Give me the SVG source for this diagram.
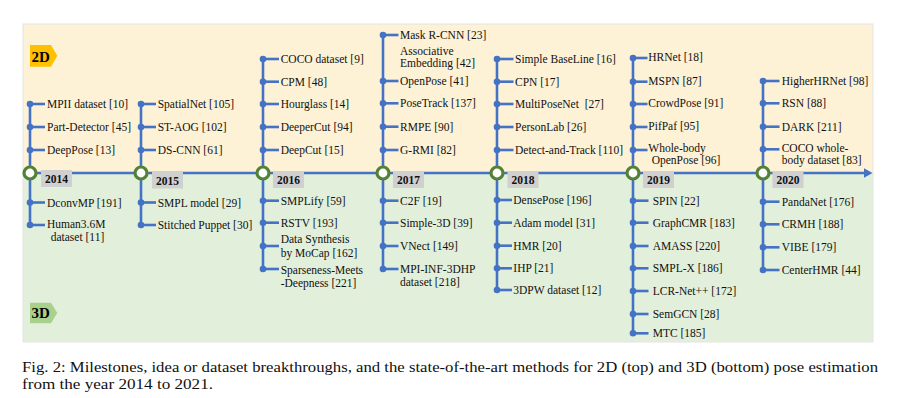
<svg xmlns="http://www.w3.org/2000/svg" width="899" height="398" viewBox="0 0 899 398">
<defs>
<style>
.t{font-family:"Liberation Serif","Times New Roman",serif;font-size:11.5px;fill:#111}
.yr{font-family:"Liberation Serif","Times New Roman",serif;font-size:11.5px;font-weight:bold;fill:#111;text-anchor:middle}
.tag{font-family:"Liberation Serif","Times New Roman",serif;font-size:15px;font-weight:bold;fill:#000}
.cap{font-family:"Liberation Serif","Times New Roman",serif;font-size:15px;fill:#111}
.ln{stroke:#4472C4;stroke-width:2.6;fill:none}
.dot{fill:#4472C4}
.yc{fill:#fff;stroke:#538135;stroke-width:3.2}
.yb{fill:#D0D0D0}
</style>
</defs>
<rect width="899" height="398" fill="#fff"/>
<rect x="23" y="24" width="850" height="149" fill="#FDF1D6"/>
<rect x="23" y="173" width="850" height="169" fill="#E2EFDA"/>
<rect x="23" y="24" width="850" height="318" fill="none" stroke="#E4E4E4" stroke-width="1"/>
<g id="tag2d"><path d="M30,45H51L57.3,55.8L51,66.7H30Z" fill="#FFC000"/><text class="tag" x="31.5" y="61.5">2D</text></g>
<g id="tag3d"><path d="M30,302.7H51L57.3,313L51,323.3H30Z" fill="#A9D18E"/><text class="tag" x="31.5" y="318">3D</text></g>

<g id="connectors">
<line class="ln" x1="23" y1="173" x2="866" y2="173"/>
<polygon points="864,168.3 872.5,173 864,177.7" fill="#4472C4"/>
<line class="ln" x1="30" y1="104" x2="30" y2="225"/>
<line class="ln" x1="141" y1="104" x2="141" y2="225"/>
<line class="ln" x1="263" y1="59" x2="263" y2="269"/>
<line class="ln" x1="383" y1="35" x2="383" y2="269"/>
<line class="ln" x1="497" y1="59" x2="497" y2="290"/>
<line class="ln" x1="633" y1="58" x2="633" y2="333.3"/>
<line class="ln" x1="763" y1="81" x2="763" y2="270"/>
</g>

<!-- 2014 -->
<g id="y2014">
<circle class="yc" cx="30" cy="173" r="6"/><rect class="yb" x="41" y="170" width="31" height="17"/><text class="yr" x="56.5" y="182.5">2014</text>
<g id="n2014a"><circle class="dot" cx="30" cy="104" r="3.3"/><line class="ln" x1="30" y1="104" x2="45" y2="104"/><text class="t" x="47" y="108">MPII dataset [10]</text></g>
<g id="n2014b"><circle class="dot" cx="30" cy="127" r="3.3"/><line class="ln" x1="30" y1="127" x2="45" y2="127"/><text class="t" x="47" y="131">Part-Detector [45]</text></g>
<g id="n2014c"><circle class="dot" cx="30" cy="150" r="3.3"/><line class="ln" x1="30" y1="150" x2="45" y2="150"/><text class="t" x="47" y="154">DeepPose [13]</text></g>
<g id="n2014d"><circle class="dot" cx="30" cy="202.5" r="3.3"/><line class="ln" x1="30" y1="202.5" x2="45" y2="202.5"/><text class="t" x="47" y="206.5">DconvMP [191]</text></g>
<g id="n2014e"><circle class="dot" cx="30" cy="225" r="3.3"/><line class="ln" x1="30" y1="225" x2="45" y2="225"/><text class="t" x="47" y="227.5">Human3.6M</text><text class="t" x="50.7" y="241">dataset [11]</text></g>
</g>

<!-- 2015 -->
<g id="y2015">
<circle class="yc" cx="141" cy="173" r="6"/><rect class="yb" x="152" y="172" width="31" height="16.5"/><text class="yr" x="167.5" y="184.5">2015</text>
<g id="n2015a"><circle class="dot" cx="141" cy="104" r="3.3"/><line class="ln" x1="141" y1="104" x2="156" y2="104"/><text class="t" x="157.7" y="108">SpatialNet [105]</text></g>
<g id="n2015b"><circle class="dot" cx="141" cy="127" r="3.3"/><line class="ln" x1="141" y1="127" x2="156" y2="127"/><text class="t" x="157.7" y="131">ST-AOG [102]</text></g>
<g id="n2015c"><circle class="dot" cx="141" cy="150" r="3.3"/><line class="ln" x1="141" y1="150" x2="156" y2="150"/><text class="t" x="157.7" y="154">DS-CNN [61]</text></g>
<g id="n2015d"><circle class="dot" cx="141" cy="202.5" r="3.3"/><line class="ln" x1="141" y1="202.5" x2="156" y2="202.5"/><text class="t" x="157.7" y="206.5">SMPL model [29]</text></g>
<g id="n2015e"><circle class="dot" cx="141" cy="225" r="3.3"/><line class="ln" x1="141" y1="225" x2="156" y2="225"/><text class="t" x="157.7" y="229">Stitched Puppet [30]</text></g>
</g>

<!-- 2016 -->
<g id="y2016">
<circle class="yc" cx="263" cy="173" r="6"/><rect class="yb" x="273" y="171" width="31" height="17"/><text class="yr" x="288.5" y="183.5">2016</text>
<g id="n2016a"><circle class="dot" cx="263" cy="59" r="3.3"/><line class="ln" x1="263" y1="59" x2="279" y2="59"/><text class="t" x="280.7" y="63">COCO dataset [9]</text></g>
<g id="n2016b"><circle class="dot" cx="263" cy="81.7" r="3.3"/><line class="ln" x1="263" y1="81.7" x2="279" y2="81.7"/><text class="t" x="280.7" y="85.7">CPM [48]</text></g>
<g id="n2016c"><circle class="dot" cx="263" cy="104" r="3.3"/><line class="ln" x1="263" y1="104" x2="279" y2="104"/><text class="t" x="280.7" y="108">Hourglass [14]</text></g>
<g id="n2016d"><circle class="dot" cx="263" cy="127" r="3.3"/><line class="ln" x1="263" y1="127" x2="279" y2="127"/><text class="t" x="280.7" y="131">DeeperCut [94]</text></g>
<g id="n2016e"><circle class="dot" cx="263" cy="150" r="3.3"/><line class="ln" x1="263" y1="150" x2="279" y2="150"/><text class="t" x="280.7" y="154">DeepCut [15]</text></g>
<g id="n2016f"><circle class="dot" cx="263" cy="200.7" r="3.3"/><line class="ln" x1="263" y1="200.7" x2="279" y2="200.7"/><text class="t" x="280.7" y="204.7">SMPLify [59]</text></g>
<g id="n2016g"><circle class="dot" cx="263" cy="222.7" r="3.3"/><line class="ln" x1="263" y1="222.7" x2="279" y2="222.7"/><text class="t" x="280.7" y="226.7">RSTV [193]</text></g>
<g id="n2016h"><circle class="dot" cx="263" cy="246" r="3.3"/><line class="ln" x1="263" y1="246" x2="279" y2="246"/><text class="t" x="280.7" y="243.3">Data Synthesis</text><text class="t" x="280.7" y="257.3">by MoCap [162]</text></g>
<g id="n2016i"><circle class="dot" cx="263" cy="269" r="3.3"/><line class="ln" x1="263" y1="269" x2="279" y2="269"/><text class="t" x="280.7" y="274">Sparseness-Meets</text><text class="t" x="280.7" y="287.3">-Deepness [221]</text></g>
</g>

<!-- 2017 -->
<g id="y2017">
<circle class="yc" cx="383" cy="173" r="6"/><rect class="yb" x="393" y="171" width="31" height="17"/><text class="yr" x="408.5" y="183.5">2017</text>
<g id="n2017a"><circle class="dot" cx="383" cy="35" r="3.3"/><line class="ln" x1="383" y1="35" x2="398.5" y2="35"/><text class="t" x="400" y="38.5">Mask R-CNN [23]</text></g>
<g id="n2017b"><text class="t" x="400" y="54.7">Associative</text><text class="t" x="400" y="67.3">Embedding [42]</text></g>
<g id="n2017c"><circle class="dot" cx="383" cy="81" r="3.3"/><line class="ln" x1="383" y1="81" x2="398.5" y2="81"/><text class="t" x="400" y="85">OpenPose [41]</text></g>
<g id="n2017d"><circle class="dot" cx="383" cy="103.3" r="3.3"/><line class="ln" x1="383" y1="103.3" x2="398.5" y2="103.3"/><text class="t" x="400" y="107.3">PoseTrack [137]</text></g>
<g id="n2017e"><circle class="dot" cx="383" cy="126.7" r="3.3"/><line class="ln" x1="383" y1="126.7" x2="398.5" y2="126.7"/><text class="t" x="400" y="130.7">RMPE [90]</text></g>
<g id="n2017f"><circle class="dot" cx="383" cy="150" r="3.3"/><line class="ln" x1="383" y1="150" x2="398.5" y2="150"/><text class="t" x="400" y="154">G-RMI [82]</text></g>
<g id="n2017g"><circle class="dot" cx="383" cy="200.7" r="3.3"/><line class="ln" x1="383" y1="200.7" x2="398.5" y2="200.7"/><text class="t" x="400" y="204.7">C2F [19]</text></g>
<g id="n2017h"><circle class="dot" cx="383" cy="222.7" r="3.3"/><line class="ln" x1="383" y1="222.7" x2="398.5" y2="222.7"/><text class="t" x="400" y="226.7">Simple-3D [39]</text></g>
<g id="n2017i"><circle class="dot" cx="383" cy="246" r="3.3"/><line class="ln" x1="383" y1="246" x2="398.5" y2="246"/><text class="t" x="400" y="250">VNect [149]</text></g>
<g id="n2017j"><circle class="dot" cx="383" cy="269" r="3.3"/><line class="ln" x1="383" y1="269" x2="398.5" y2="269"/><text class="t" x="400" y="272.5">MPI-INF-3DHP</text><text class="t" x="400" y="285.7">dataset [218]</text></g>
</g>

<!-- 2018 -->
<g id="y2018">
<circle class="yc" cx="497" cy="173" r="6"/><rect class="yb" x="507.5" y="171" width="31" height="17"/><text class="yr" x="523" y="183.5">2018</text>
<g id="n2018a"><circle class="dot" cx="497" cy="59" r="3.3"/><line class="ln" x1="497" y1="59" x2="513.5" y2="59"/><text class="t" x="515" y="63">Simple BaseLine [16]</text></g>
<g id="n2018b"><circle class="dot" cx="497" cy="81.7" r="3.3"/><line class="ln" x1="497" y1="81.7" x2="513.5" y2="81.7"/><text class="t" x="515" y="85.7">CPN [17]</text></g>
<g id="n2018c"><circle class="dot" cx="497" cy="104" r="3.3"/><line class="ln" x1="497" y1="104" x2="513.5" y2="104"/><text class="t" x="515" y="108">MultiPoseNet&#160; [27]</text></g>
<g id="n2018d"><circle class="dot" cx="497" cy="127" r="3.3"/><line class="ln" x1="497" y1="127" x2="513.5" y2="127"/><text class="t" x="515" y="131">PersonLab [26]</text></g>
<g id="n2018e"><circle class="dot" cx="497" cy="150" r="3.3"/><line class="ln" x1="497" y1="150" x2="513.5" y2="150"/><text class="t" x="515" y="154">Detect-and-Track [110]</text></g>
<g id="n2018f"><circle class="dot" cx="497" cy="200" r="3.3"/><line class="ln" x1="497" y1="200" x2="512" y2="200"/><text class="t" x="513.3" y="204">DensePose [196]</text></g>
<g id="n2018g"><circle class="dot" cx="497" cy="222.7" r="3.3"/><line class="ln" x1="497" y1="222.7" x2="512" y2="222.7"/><text class="t" x="513.3" y="226.7">Adam model [31]</text></g>
<g id="n2018h"><circle class="dot" cx="497" cy="245.7" r="3.3"/><line class="ln" x1="497" y1="245.7" x2="512" y2="245.7"/><text class="t" x="513.3" y="249.7">HMR [20]</text></g>
<g id="n2018i"><circle class="dot" cx="497" cy="268.3" r="3.3"/><line class="ln" x1="497" y1="268.3" x2="512" y2="268.3"/><text class="t" x="513.3" y="272.3">IHP [21]</text></g>
<g id="n2018j"><circle class="dot" cx="497" cy="290" r="3.3"/><line class="ln" x1="497" y1="290" x2="512" y2="290"/><text class="t" x="513.3" y="294">3DPW dataset [12]</text></g>
</g>

<!-- 2019 -->
<g id="y2019">
<circle class="yc" cx="633" cy="173" r="6"/><rect class="yb" x="643" y="171" width="31" height="17"/><text class="yr" x="658.5" y="183.5">2019</text>
<g id="n2019a"><circle class="dot" cx="633" cy="58" r="3.3"/><line class="ln" x1="633" y1="58" x2="647.5" y2="58"/><text class="t" x="648.3" y="60.5">HRNet [18]</text></g>
<g id="n2019b"><circle class="dot" cx="633" cy="81.7" r="3.3"/><line class="ln" x1="633" y1="81.7" x2="647.5" y2="81.7"/><text class="t" x="648.3" y="84.7">MSPN [87]</text></g>
<g id="n2019c"><circle class="dot" cx="633" cy="104" r="3.3"/><line class="ln" x1="633" y1="104" x2="647.5" y2="104"/><text class="t" x="648.3" y="106.5">CrowdPose [91]</text></g>
<g id="n2019d"><circle class="dot" cx="633" cy="127" r="3.3"/><line class="ln" x1="633" y1="127" x2="647.5" y2="127"/><text class="t" x="648.3" y="129.5">PifPaf [95]</text></g>
<g id="n2019e"><circle class="dot" cx="633" cy="150" r="3.3"/><line class="ln" x1="633" y1="150" x2="647.5" y2="150"/><text class="t" x="648.3" y="151.5">Whole-body</text><text class="t" x="651.7" y="164">OpenPose [96]</text></g>
<g id="n2019f"><circle class="dot" cx="633" cy="200.7" r="3.3"/><line class="ln" x1="633" y1="200.7" x2="648.5" y2="200.7"/><text class="t" x="652.7" y="204.7">SPIN [22]</text></g>
<g id="n2019g"><circle class="dot" cx="633" cy="222.7" r="3.3"/><line class="ln" x1="633" y1="222.7" x2="648.5" y2="222.7"/><text class="t" x="652.7" y="226.7">GraphCMR [183]</text></g>
<g id="n2019h"><circle class="dot" cx="633" cy="246" r="3.3"/><line class="ln" x1="633" y1="246" x2="648.5" y2="246"/><text class="t" x="652.7" y="250">AMASS [220]</text></g>
<g id="n2019i"><circle class="dot" cx="633" cy="268.3" r="3.3"/><line class="ln" x1="633" y1="268.3" x2="648.5" y2="268.3"/><text class="t" x="652.7" y="272.3">SMPL-X [186]</text></g>
<g id="n2019j"><circle class="dot" cx="633" cy="291" r="3.3"/><line class="ln" x1="633" y1="291" x2="648.5" y2="291"/><text class="t" x="652.7" y="295">LCR-Net++ [172]</text></g>
<g id="n2019k"><circle class="dot" cx="633" cy="314" r="3.3"/><line class="ln" x1="633" y1="314" x2="648.5" y2="314"/><text class="t" x="652.7" y="318">SemGCN [28]</text></g>
<g id="n2019l"><circle class="dot" cx="633" cy="333.3" r="3.3"/><line class="ln" x1="633" y1="333.3" x2="648.5" y2="333.3"/><text class="t" x="652.7" y="337.3">MTC [185]</text></g>
</g>

<!-- 2020 -->
<g id="y2020">
<circle class="yc" cx="763" cy="173" r="6"/><rect class="yb" x="772.5" y="171" width="31" height="17"/><text class="yr" x="788" y="183.5">2020</text>
<g id="n2020a"><circle class="dot" cx="763" cy="81" r="3.3"/><line class="ln" x1="763" y1="81" x2="779.5" y2="81"/><text class="t" x="781.7" y="84.5">HigherHRNet [98]</text></g>
<g id="n2020b"><circle class="dot" cx="763" cy="103.3" r="3.3"/><line class="ln" x1="763" y1="103.3" x2="779.5" y2="103.3"/><text class="t" x="781.7" y="107">RSN [88]</text></g>
<g id="n2020c"><circle class="dot" cx="763" cy="126.7" r="3.3"/><line class="ln" x1="763" y1="126.7" x2="779.5" y2="126.7"/><text class="t" x="781.7" y="130.5">DARK [211]</text></g>
<g id="n2020d"><circle class="dot" cx="763" cy="149.3" r="3.3"/><line class="ln" x1="763" y1="149.3" x2="779.5" y2="149.3"/><text class="t" x="781.7" y="151.5">COCO whole-</text><text class="t" x="781.7" y="164">body dataset [83]</text></g>
<g id="n2020e"><circle class="dot" cx="763" cy="201.7" r="3.3"/><line class="ln" x1="763" y1="201.7" x2="779.5" y2="201.7"/><text class="t" x="781.7" y="205.7">PandaNet [176]</text></g>
<g id="n2020f"><circle class="dot" cx="763" cy="224.3" r="3.3"/><line class="ln" x1="763" y1="224.3" x2="779.5" y2="224.3"/><text class="t" x="781.7" y="228.3">CRMH [188]</text></g>
<g id="n2020g"><circle class="dot" cx="763" cy="247.3" r="3.3"/><line class="ln" x1="763" y1="247.3" x2="779.5" y2="247.3"/><text class="t" x="781.7" y="251.3">VIBE [179]</text></g>
<g id="n2020h"><circle class="dot" cx="763" cy="270" r="3.3"/><line class="ln" x1="763" y1="270" x2="779.5" y2="270"/><text class="t" x="781.7" y="274">CenterHMR [44]</text></g>
</g>

<g id="caption">
<text class="cap" x="22" y="371.5" textLength="856" lengthAdjust="spacingAndGlyphs">Fig. 2: Milestones, idea or dataset breakthroughs, and the state-of-the-art methods for 2D (top) and 3D (bottom) pose estimation</text>
<text class="cap" x="22" y="389" textLength="191" lengthAdjust="spacingAndGlyphs">from the year 2014 to 2021.</text>
</g>
</svg>
